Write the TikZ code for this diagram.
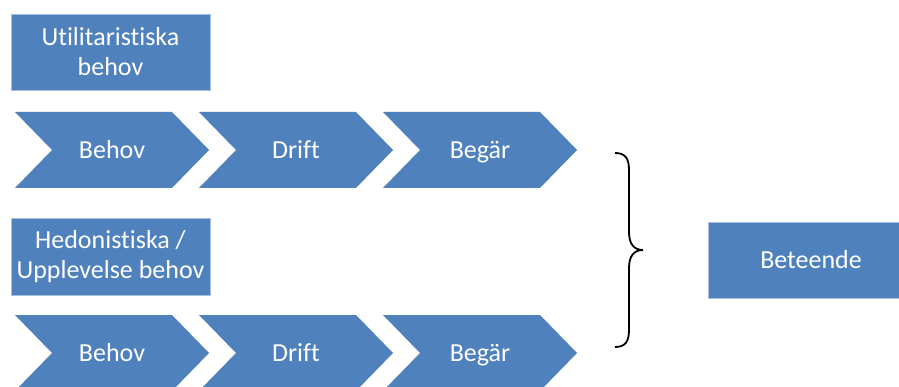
\documentclass[tikz,border=0pt]{standalone}
\usepackage{fontspec}
\setmainfont{Carlito}[Ligatures=NoCommon]
\definecolor{officeblue}{HTML}{4F81BD}
\definecolor{boxedge}{HTML}{A9BFDC}
\begin{document}
\begin{tikzpicture}[x=1pt,y=-1pt,
  labeltext/.style={text=white,font=\fontsize{26}{30}\selectfont,align=center,inner sep=0pt},
  needbox/.style={fill=officeblue,draw=boxedge,line width=0.6pt,labeltext},
]
\useasboundingbox (0,0) rectangle (899,387);

% need categories
\node[needbox,minimum width=199pt,minimum height=76pt] (util) at (110.5,52) {Utilitaristiska\\behov};
\node[needbox,minimum width=199pt,minimum height=77pt] (hedo) at (110.5,256.5) {Hedonistiska /\\Upplevelse behov};

% process chevrons: need -> drive -> desire (labels set on a common baseline)
\foreach \row/\y in {u/112,h/315}{
  \foreach \lab [count=\i] in {Behov,Drift,Begär}{
    \pgfmathsetmacro\x{15+184*(\i-1)}
    \fill[officeblue] (\x,\y) -- ++(157,0) -- ++(37,38) -- ++(-37,38) -- ++(-157,0) -- ++(37,-38) -- cycle;
    \node[labeltext,anchor=base] (\row\i) at (\x+97,\y+46.5) {\lab};
  }
}

% curly brace gathering both rows
\coordinate (bt) at (615,153);
\coordinate (bm) at (643,250);
\coordinate (bb) at (615,347);
\draw[line width=1.8pt] (bt) .. controls (625,153) and (629,158) .. (629,170)
  -- (629,232) .. controls (629,244) and (634,250) .. (bm)
  .. controls (634,250) and (629,256) .. (629,268)
  -- (629,330) .. controls (629,342) and (625,347) .. (bb);

% resulting behaviour
\node[needbox,minimum width=206pt,minimum height=76pt] (beh) at (811,260) {Beteende};
\end{tikzpicture}
\end{document}
